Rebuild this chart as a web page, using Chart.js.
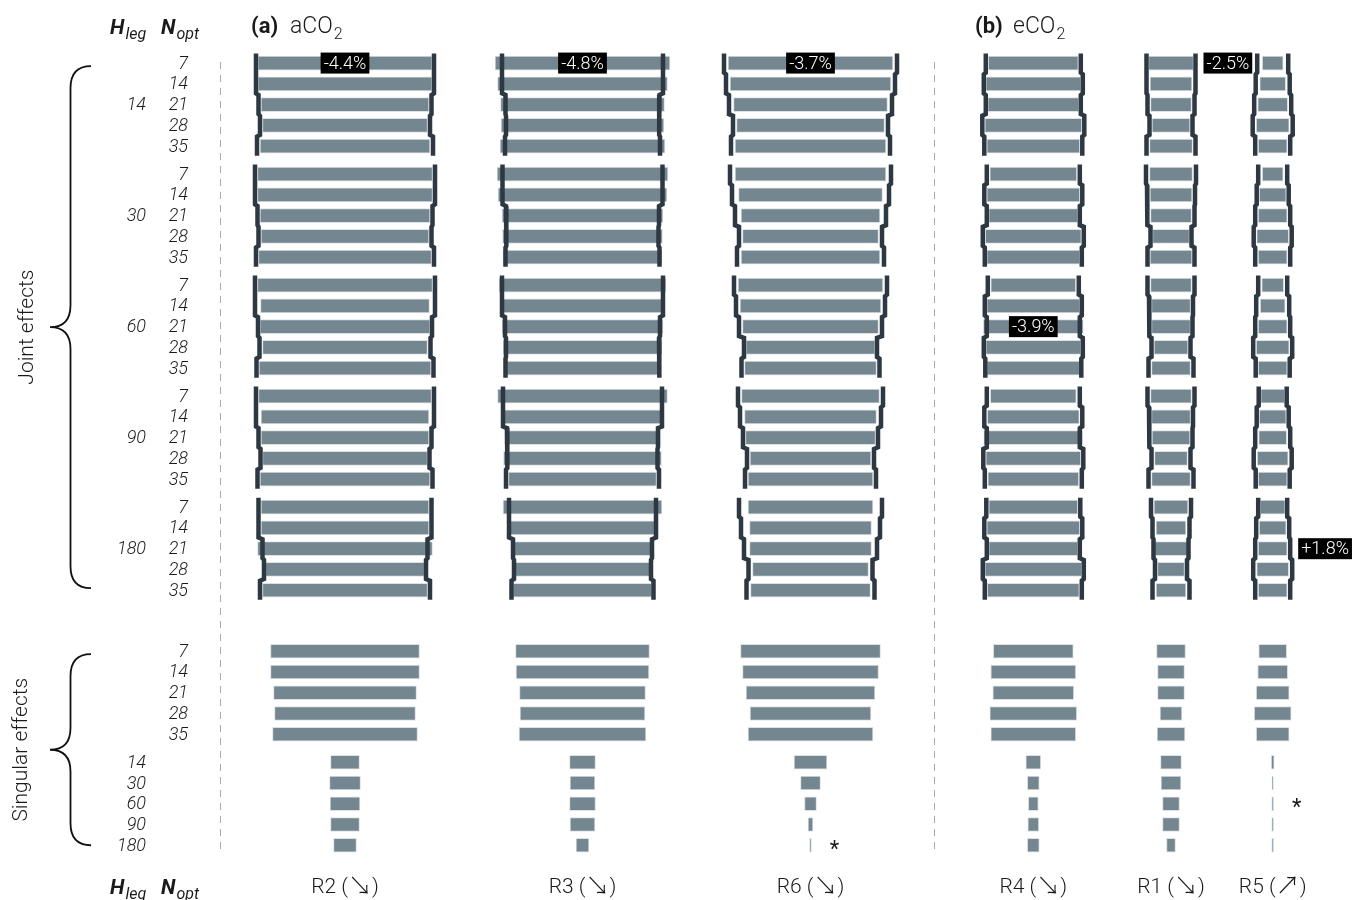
<!DOCTYPE html>
<html><head><meta charset="utf-8">
<script src="https://cdn.jsdelivr.net/npm/chart.js@4.4.1/dist/chart.umd.min.js"></script>
<style>
html,body{margin:0;padding:0;background:#fff;overflow:hidden;}
#c{display:block;}
</style></head>
<body><canvas id="c" width="1363" height="900"></canvas>
<script>
// ---------------- DATA ----------------
const columnNames = ['R2', 'R3', 'R6', 'R4', 'R1', 'R5'];
const trendArrows = ['↘', '↘', '↘', '↘', '↘', '↗'];
const hLegLevels = [14, 30, 60, 90, 180];
const nOptLevels = [7, 14, 21, 28, 35];

// Joint effects: 25 rows = H_leg (14,30,60,90,180) x N_opt (7..35); bar = grey bar width, edge = dark outline width
const barR2  = [174,174,168,165,170, 175,175,170,168,173, 175,169,170,165,172, 173,168,168,165,170, 168,168,175,159,165];
const edgeR2 = [178,178,173,170,176, 180,180,175,173,178, 180,180,174,171,177, 178,178,173,169,175, 173,173,165,162,170];
const barR3  = [175,170,164,163,165, 171,169,161,160,159, 167,159,161,159,152, 170,159,156,158,148, 159,148,137,135,139];
const edgeR3 = [161,161,154,153,155, 160,160,153,152,154, 161,161,155,153,154, 159,159,151,150,153, 147,147,139,137,142];
const barR6  = [165,161,154,148,151, 151,144,139,136,139, 145,141,136,129,132, 138,132,130,121,125, 125,122,122,116,120];
const edgeR6 = [173,169,163,155,159, 161,157,151,143,147, 153,149,143,133,138, 145,141,135,127,131, 143,139,133,124,128];
const barR4  = [90,95,91,97,93, 87,93,89,96,93, 85,93,100,95,93, 86,92,99,95,91, 89,93,89,97,92];
const edgeR4 = [95,99,95,102,98, 93,98,93,101,97, 91,97,93,99,96, 93,98,93,100,97, 94,98,93,101,97];
const barR1  = [45,42,41,38,43, 43,42,41,37,42, 41,39,39,34,39, 41,39,38,33,39, 34,30,33,27,30];
const edgeR1 = [49,49,47,43,49, 50,48,47,41,47, 47,44,43,39,45, 47,44,43,39,45, 40,37,35,32,37];
const barR5  = [21,26,30,33,29, 21,27,29,32,29, 22,25,29,33,29, 24,27,28,31,29, 25,27,29,32,29];
const edgeR5 = [31,34,37,40,35, 29,32,35,38,35, 29,33,35,39,34, 28,32,35,38,34, 29,33,35,39,35];

// Singular effects: N_opt (7..35) and H_leg (14..180)
const singleNR2 = [149,149,143,141,145], singleHR2 = [29,31,30,29,23];
const singleNR3 = [134,133,126,125,127], singleHR3 = [26,25,26,25,13];
const singleNR6 = [140,136,129,121,125], singleHR6 = [33,20,12,5,2];
const singleNR4 = [80,85,81,87,85],      singleHR4 = [15,12,10,11,12];
const singleNR1 = [29,27,27,22,28],      singleHR1 = [21,20,17,17,9];
const singleNR5 = [28,30,33,37,33],      singleHR5 = [3,1.5,2,2,2];

// Annotations
const pctLabelCols  = [0, 1, 2, 3, 4, 5];
const pctLabelRows  = [0, 0, 0, 12, 0, 22];
const pctLabelTexts = ['-4.4%', '-4.8%', '-3.7%', '-3.9%', '-2.5%', '+1.8%'];
const pctLabelOutside = [false, false, false, false, true, true];
const asteriskCols = [2, 5];
const asteriskHRows = [4, 2];

const jointBars = [barR2, barR3, barR6, barR4, barR1, barR5];
const jointEdges = [edgeR2, edgeR3, edgeR6, edgeR4, edgeR1, edgeR5];
const singleN = [singleNR2, singleNR3, singleNR6, singleNR4, singleNR1, singleNR5];
const singleH = [singleHR2, singleHR3, singleHR6, singleHR4, singleHR1, singleHR5];

// ---------------- LAYOUT ----------------
const PAGE_W = 1363;
const colCenters = [345, 582.5, 810.5, 1033.3, 1171, 1272.7];
const GROUP_STEP = 5.35, SINGLE_N_START = 28.34, SINGLE_H_START = 33.69;
const jointPos = [];
hLegLevels.forEach((h, g) => nOptLevels.forEach((n, r) => jointPos.push(g * GROUP_STEP + r)));
const singleNPos = nOptLevels.map((_, i) => SINGLE_N_START + i);
const singleHPos = hLegLevels.map((_, i) => SINGLE_H_START + i);

const BAR = '#74868f', BAR_BORDER = '#dce2e5', EDGE = '#2d3843', TXT = '#1a1a1a';
const LIGHT = '300 ';
const FF = 'Roboto, "DejaVu Sans", sans-serif';

// ---------------- DATASETS ----------------
const edgeSets = [], barSets = [];
columnNames.forEach((name, ci) => {
  const xid = 'xc' + ci;
  const barData = [];
  jointBars[ci].forEach((v, i) => barData.push({y: jointPos[i], x: [-v / 2, v / 2]}));
  singleN[ci].forEach((v, i) => barData.push({y: singleNPos[i], x: [-v / 2, v / 2]}));
  singleH[ci].forEach((v, i) => barData.push({y: singleHPos[i], x: [-v / 2, v / 2]}));
  const leftEdge = [], rightEdge = [];
  jointEdges[ci].forEach((v, i) => {
    if (i > 0 && i % 5 === 0) { leftEdge.push({x: null, y: null}); rightEdge.push({x: null, y: null}); }
    leftEdge.push({x: -v / 2, y: jointPos[i] - 0.46}, {x: -v / 2, y: jointPos[i] + 0.46});
    rightEdge.push({x: v / 2, y: jointPos[i] - 0.46}, {x: v / 2, y: jointPos[i] + 0.46});
  });
  const edgeStyle = {type: 'scatter', showLine: true, borderColor: EDGE, borderWidth: 4.5, xAxisID: xid, yAxisID: 'y',
    pointRadius: 0, pointHoverRadius: 0, pointHitRadius: 0, spanGaps: false, tension: 0, borderJoinStyle: 'miter', borderCapStyle: 'butt'};
  edgeSets.push(Object.assign({label: name + ' left', data: leftEdge}, edgeStyle));
  edgeSets.push(Object.assign({label: name + ' right', data: rightEdge}, edgeStyle));
  barSets.push({type: 'bar', label: name, indexAxis: 'y', xAxisID: xid, yAxisID: 'y', data: barData,
    backgroundColor: BAR, borderColor: BAR_BORDER, borderWidth: 1, borderSkipped: false,
    barThickness: 14, grouped: false});
});

const scales = {
  x: {type: 'linear', axis: 'x', min: 0, max: PAGE_W, display: false, offset: false},
  y: {type: 'linear', axis: 'y', min: -0.63, max: 38.4, reverse: true, display: false, offset: false}
};
colCenters.forEach((c, ci) => {
  scales['xc' + ci] = {type: 'linear', axis: 'x', min: -c, max: PAGE_W - c, display: false, offset: false};
});

// ---------------- DRAWING HELPERS ----------------
function subText(ctx, x, y, main, sub, mainFont, subFont, dy) {
  ctx.font = mainFont; ctx.textAlign = 'left'; ctx.fillText(main, x, y);
  const w = ctx.measureText(main).width;
  ctx.font = subFont; ctx.fillText(sub, x + w + 1, y + dy);
}
function brace(ctx, xEnd, xTip, yTop, yBot, yTip) {
  const xMid = (xEnd + xTip) / 2, r = 22;
  ctx.beginPath();
  ctx.moveTo(xEnd, yTop);
  ctx.quadraticCurveTo(xMid, yTop, xMid, yTop + r);
  ctx.lineTo(xMid, yTip - r);
  ctx.quadraticCurveTo(xMid, yTip, xTip, yTip);
  ctx.quadraticCurveTo(xMid, yTip, xMid, yTip + r);
  ctx.lineTo(xMid, yBot - r);
  ctx.quadraticCurveTo(xMid, yBot, xEnd, yBot);
  ctx.stroke();
}

const framePlugin = {
  id: 'frame',
  afterDraw(chart) {
    const ctx = chart.ctx, ys = chart.scales.y;
    ctx.save();
    ctx.fillStyle = TXT;
    ctx.textBaseline = 'alphabetic';
    // headers
    [34, 894].forEach(by => {
      subText(ctx, 110, by, 'H', 'leg', 'italic bold 21px ' + FF, 'italic 16px ' + FF, 5);
      subText(ctx, 161, by, 'N', 'opt', 'italic bold 21px ' + FF, 'italic 16px ' + FF, 5);
    });
    // panel titles
    subText(ctx, 251, 33, '(a)', '', 'bold 22px ' + FF, '15px ' + FF, 6);
    subText(ctx, 290, 33, 'aCO', '2', LIGHT + '23px ' + FF, LIGHT + '16px ' + FF, 6);
    subText(ctx, 975, 33, '(b)', '', 'bold 22px ' + FF, '15px ' + FF, 6);
    subText(ctx, 1013, 33, 'eCO', '2', LIGHT + '23px ' + FF, LIGHT + '16px ' + FF, 6);
    // row labels
    ctx.font = 'italic ' + LIGHT + '18px ' + FF;
    ctx.textAlign = 'right'; ctx.textBaseline = 'middle';
    jointPos.forEach((p, i) => ctx.fillText(String(nOptLevels[i % 5]), 188, ys.getPixelForValue(p) + 1));
    hLegLevels.forEach((h, g) => ctx.fillText(String(h), 146, ys.getPixelForValue(jointPos[g * 5 + 2]) + 1));
    singleNPos.forEach((p, i) => ctx.fillText(String(nOptLevels[i]), 188, ys.getPixelForValue(p) + 1));
    singleHPos.forEach((p, i) => ctx.fillText(String(hLegLevels[i]), 146, ys.getPixelForValue(p) + 1));
    // dashed separators
    ctx.strokeStyle = '#a9a9a9'; ctx.lineWidth = 1; ctx.setLineDash([7, 6]);
    [220.5, 934.5].forEach(x => { ctx.beginPath(); ctx.moveTo(x, 62); ctx.lineTo(x, 852); ctx.stroke(); });
    ctx.setLineDash([]);
    // braces
    ctx.strokeStyle = '#111'; ctx.lineWidth = 1.8;
    const jTop = ys.getPixelForValue(jointPos[0]) + 3, jBot = ys.getPixelForValue(jointPos[24]) - 2;
    brace(ctx, 91, 50, jTop, jBot, (jTop + jBot) / 2);
    const sTop = ys.getPixelForValue(singleNPos[0]) + 3, sBot = ys.getPixelForValue(singleHPos[4]);
    brace(ctx, 91, 50, sTop, sBot, (sTop + sBot) / 2);
    // group titles
    ctx.font = LIGHT + '21px ' + FF; ctx.textAlign = 'center'; ctx.textBaseline = 'middle';
    ctx.save(); ctx.translate(28, (jTop + jBot) / 2); ctx.rotate(-Math.PI / 2); ctx.fillText('Joint effects', 0, 0); ctx.restore();
    ctx.save(); ctx.translate(22, (sTop + sBot) / 2); ctx.rotate(-Math.PI / 2); ctx.fillText('Singular effects', 0, 0); ctx.restore();

    // per-column annotations
    columnNames.forEach((name, ci) => {
      const xs = chart.scales['xc' + ci];
      // percentage labels
      pctLabelCols.forEach((c, k) => {
        if (c !== ci) return;
        const row = pctLabelRows[k];
        const y = ys.getPixelForValue(jointPos[row]);
        ctx.font = LIGHT + '18px ' + FF;
        const tw = ctx.measureText(pctLabelTexts[k]).width;
        const bw = tw + 6, bh = 21;
        const x0 = pctLabelOutside[k] ? xs.getPixelForValue(jointEdges[ci][row] / 2) + 8 : xs.getPixelForValue(0) - bw / 2;
        ctx.fillStyle = '#000'; ctx.fillRect(x0, y - bh / 2, bw, bh);
        ctx.fillStyle = '#fff'; ctx.textAlign = 'left'; ctx.textBaseline = 'middle';
        ctx.fillText(pctLabelTexts[k], x0 + 3, y + 1);
      });
      // asterisks
      asteriskCols.forEach((c, k) => {
        if (c !== ci) return;
        const r = asteriskHRows[k];
        const y = ys.getPixelForValue(singleHPos[r]);
        ctx.font = '22px ' + FF; ctx.fillStyle = TXT; ctx.textAlign = 'center'; ctx.textBaseline = 'middle';
        ctx.fillText('*', xs.getPixelForValue(singleH[ci][r] / 2) + 23, y + 5);
      });
      // column name with trend arrow
      const cx = xs.getPixelForValue(0);
      ctx.fillStyle = TXT; ctx.textBaseline = 'alphabetic'; ctx.textAlign = 'left';
      const f1 = LIGHT + '21px ' + FF, f2 = '300 24px "Noto Sans CJK SC", "DejaVu Sans", sans-serif';
      ctx.font = f1; const wA = ctx.measureText(name + ' (').width, wC = ctx.measureText(')').width;
      ctx.font = f2; const wB = ctx.measureText(trendArrows[ci]).width;
      let x = cx - (wA + wB + wC) / 2;
      ctx.font = f1; ctx.fillText(name + ' (', x, 893); x += wA;
      ctx.font = f2; ctx.fillText(trendArrows[ci], x, 894); x += wB;
      ctx.font = f1; ctx.fillText(')', x, 893);
    });
    ctx.restore();
  }
};

new Chart(document.getElementById('c'), {
  type: 'scatter',
  data: {datasets: edgeSets.concat(barSets)},
  options: {
    responsive: false, animation: false,
    layout: {padding: {top: 50, bottom: 40, left: 0, right: 0}, autoPadding: false},
    plugins: {legend: {display: false}, tooltip: {enabled: false}},
    scales: scales
  },
  plugins: [framePlugin]
});
</script>
</body></html>
